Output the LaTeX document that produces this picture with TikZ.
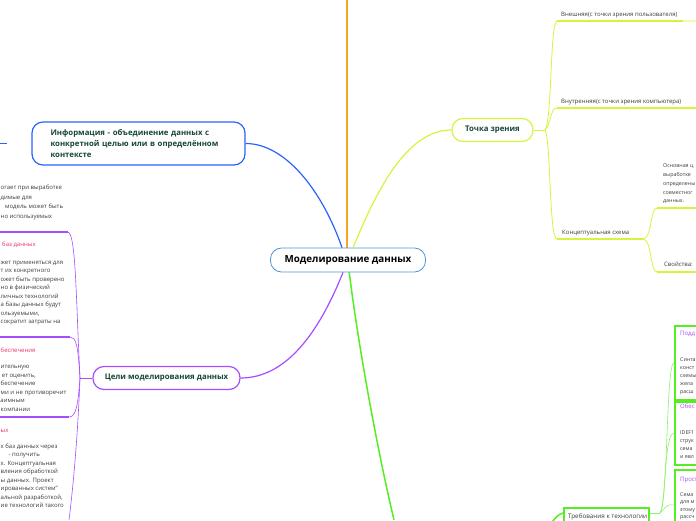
\documentclass[tikz,border=0pt]{standalone}
\usepackage{fontspec}
\setmainfont{Open Sans}
\usetikzlibrary{positioning, calc}
\definecolor{rootBlue}{RGB}{77, 150, 214}
\definecolor{infoBlue}{RGB}{41, 98, 255}
\definecolor{viewYellow}{RGB}{212, 245, 60}
\definecolor{goalPurple}{RGB}{166, 77, 255}
\definecolor{reqGreen}{RGB}{85, 238, 34}
\definecolor{trunkOrange}{RGB}{245, 166, 35}
\definecolor{topicText}{RGB}{22, 70, 58}
\definecolor{leafText}{RGB}{60, 60, 60}
\definecolor{titlePink}{RGB}{230, 50, 110}
\definecolor{titlePurple}{RGB}{170, 80, 240}

\begin{document}
\begin{tikzpicture}[
    x=1pt, y=-1pt,
    root_node/.style={
        rectangle,
        draw=rootBlue,
        line width=0.8pt,
        rounded corners=11pt,
        minimum width=155pt,
        minimum height=24pt,
        fill=white,
        font=\fontsize{9.8}{11}\selectfont\bfseries
    },
    topic_node/.style={
        rectangle,
        line width=1.2pt,
        rounded corners=11pt,
        fill=white,
        text=topicText,
        font=\fontsize{7.8}{10.7}\selectfont\bfseries
    },
    leaf_text/.style={
        font=\fontsize{6}{7}\selectfont,
        text=leafText,
        inner sep=0pt
    },
    edge_text/.style={
        leaf_text,
        font=\fontsize{5.3}{7}\selectfont
    },
    leaf_line/.style={line width=1.4pt},
    green_box/.style={
        rectangle,
        draw=reqGreen,
        line width=1.6pt,
        fill=white,
        inner sep=0pt
    },
    box_title/.style={
        font=\fontsize{6}{7}\selectfont,
        inner sep=0pt
    }
]
    \useasboundingbox (0, 0) rectangle (696, 520);
    \clip (0, 0) rectangle (696, 520);

    % Main trunk lines
    \coordinate (top_end) at (347, 0);
    \coordinate (bottom_end) at (394, 520);
    \draw[trunkOrange, line width=1.2pt] (347, 250) -- (top_end);
    \draw[reqGreen, line width=1.5pt] (349, 270) .. controls (356, 330) and (375, 440) .. (bottom_end);

    % Root and topics
    \node[root_node] (root) at (348, 260) {Моделирование данных};
    \node[topic_node, draw=infoBlue, minimum width=213pt, minimum height=43pt,
          align=left, text width=176pt] (info) at (138.5, 143.5) {
        Информация - объединение данных с\\
        конкретной целью или в определённом\\
        контексте
    };
    \node[topic_node, draw=viewYellow, minimum width=81pt, minimum height=23pt] (view) at (492.5, 130) {Точка зрения};
    \node[topic_node, draw=goalPurple, minimum width=147pt, minimum height=23pt] (goals) at (166.5, 378) {Цели моделирования данных};

    % Branches from root
    \draw[infoBlue, line width=1.2pt] ([xshift=-6pt]root.north) .. controls (322, 190) and (285, 143.5) .. (info.east);
    \draw[viewYellow, line width=1.2pt] ([xshift=5pt]root.north) .. controls (375, 195) and (405, 130) .. (view.west);
    \draw[goalPurple, line width=1.2pt] ([xshift=-5pt]root.south) .. controls (318, 335) and (285, 378) .. (goals.east);

    % Info stub to the left
    \coordinate (info_stub) at (0, 143.5);
    \draw[infoBlue, line width=1.2pt] (info_stub) -- ++(7, 0);

    % Goals children (cut off at the left edge)
    \coordinate (goal_split) at (80, 378);
    \coordinate (goal_a) at (68, 232);
    \coordinate (goal_b) at (70, 337);
    \coordinate (goal_c) at (69, 417);
    \coordinate (goal_d) at (69, 520);
    \draw[goalPurple, line width=0.8pt] (goals.west) -- (goal_split);
    \draw[goalPurple, line width=0.6pt] (goal_split) .. controls (76, 300) and (76, 234) .. (goal_a);
    \draw[goalPurple, line width=0.6pt] (goal_split) .. controls (78, 345) and (76, 337) .. (goal_b);
    \draw[goalPurple, line width=0.6pt] (goal_split) .. controls (78, 405) and (76, 417) .. (goal_c);
    \draw[goalPurple, line width=0.6pt] (goal_split) .. controls (78, 430) and (74, 480) .. (goal_d);
    \draw[goalPurple, leaf_line] (0, 232) -- (goal_a);
    \draw[goalPurple, leaf_line] (0, 337) -- (goal_b);
    \draw[goalPurple, leaf_line] (0, 417) -- (goal_c);

    \foreach \ax/\px/\yy/\txt in {west/0.5/189/огает при выработке, west/0.5/199/димые для,
                                  west/5/208/модель может быть, west/0.5/218/но используемых} {
        \node[leaf_text, anchor=base \ax] at (\px, \yy) {\txt};
    }
    \node[box_title, text=titlePink, anchor=base west] at (2, 246) {баз данных};
    \foreach \ax/\px/\yy/\txt in {west/0.5/264/жет применяться для, west/0.5/272/т их конкретного,
                                  west/0.5/281/ожет быть проверено, west/0.5/289/но в физический,
                                  west/0.5/298/личных технологий, west/0.5/306/а базы данных будут,
                                  west/0.5/315/{ользуемыми,}, west/0.5/323/сократит затраты на} {
        \node[leaf_text, anchor=base \ax] at (\px, \yy) {\txt};
    }
    \node[box_title, text=titlePink, anchor=base west] at (0.5, 352) {беспечения};
    \foreach \ax/\px/\yy/\txt in {west/0.5/368/ительную, east/36/377/{ет оценить,},
                                  west/0.5/385/беспечение, west/0.5/394/ми и не противоречит,
                                  east/25/402/аимным, west/0.5/411/компании} {
        \node[leaf_text, anchor=base \ax] at (\px, \yy) {\txt};
    }
    \node[box_title, text=titlePink, anchor=base west] at (0.5, 432) {ых};
    \foreach \ax/\px/\yy/\txt in {west/0.5/448/х баз данных через, east/40/456/- получить,
                                  west/0.5/465/х. Концептуальная, west/0.5/473/вления обработкой,
                                  west/0.5/482/ы данных. Проект, west/0.5/490/ированных систем",
                                  west/0.5/499/{альной разработкой,}, west/0.5/507/ие технологий такого} {
        \node[leaf_text, anchor=base \ax] at (\px, \yy) {\txt};
    }

    % View children
    \coordinate (view_split) at (545, 130);
    \draw[viewYellow, line width=0.8pt] (view.east) -- (view_split);
    \node[leaf_text, anchor=base west] (outer) at (561, 16) {Внешняя(с точки зрения пользователя)};
    \node[leaf_text, anchor=base west] (inner) at (561, 103) {Внутренняя(с точки зрения компьютера)};
    \node[leaf_text, anchor=base west] (concept) at (562, 234) {Концептуальная схема};
    \draw[viewYellow, line width=0.8pt] (view_split) .. controls (552, 122) and (550, 21) .. (557, 21);
    \draw[viewYellow, line width=0.8pt] (view_split) .. controls (551, 125) and (550, 108) .. (557, 108);
    \draw[viewYellow, line width=0.8pt] (view_split) .. controls (551, 140) and (549, 239) .. (557, 239);
    \draw[viewYellow, leaf_line] (557, 21) -- (683, 21);
    \draw[viewYellow!40, leaf_line] (683, 21) -- (696, 21);
    \draw[viewYellow, leaf_line] (557, 108) -- (696, 108);
    \draw[viewYellow, leaf_line] (557, 239) -- (643, 239);

    % Concept children
    \draw[viewYellow, line width=0.8pt] (643, 239) .. controls (652, 239) and (650, 208) .. (657, 208);
    \draw[viewYellow, line width=0.8pt] (643, 239) .. controls (652, 239) and (650, 272) .. (657, 272);
    \draw[viewYellow, leaf_line] (657, 208) -- (696, 208);
    \draw[viewYellow, leaf_line] (657, 272) -- (696, 272);
    \foreach \yy/\txt in {167/Основная ц, 176/выработке, 185/определены, 194/совместног, 202/данных.} {
        \node[edge_text, anchor=base west] at (663, \yy) {\txt};
    }
    \node[leaf_text, anchor=base west] (props) at (664, 266) {Свойства:};

    % Requirements boxes
    \node[green_box, minimum width=60pt, minimum height=74pt, anchor=north west] (req_a) at (674, 325) {};
    \node[green_box, minimum width=60pt, minimum height=63pt, anchor=north west] (req_b) at (674, 401) {};
    \node[green_box, minimum width=60pt, minimum height=70pt, anchor=north west] (req_c) at (674, 469) {};
    \node[green_box, minimum width=85pt, minimum height=30pt, anchor=north west] (req) at (563, 507) {};
    \node[leaf_text, font=\fontsize{6.3}{7}\selectfont, anchor=base west] at (568, 518) {Требования к технологии};

    \node[box_title, text=titlePurple, anchor=base west] at (680, 335) {Подд};
    \foreach \yy/\txt in {361/Синта, 369/конст, 377/схемы, 385/жела, 393/расш} {
        \node[edge_text, anchor=base west] at (680, \yy) {\txt};
    }
    \node[box_title, text=titlePurple, anchor=base west] at (680, 408) {Обес};
    \foreach \yy/\txt in {434/IDEF1, 442/струк, 450/сема, 458/и явл} {
        \node[edge_text, anchor=base west] at (680, \yy) {\txt};
    }
    \node[box_title, text=titlePurple, anchor=base west] at (680, 481) {Прост};
    \foreach \yy/\txt in {496/Сема, 503.5/для м, 511/этому, 518/рассч} {
        \node[edge_text, anchor=base west] at (680, \yy) {\txt};
    }

    % Requirement connectors
    \coordinate (req_split) at (660, 513);
    \coordinate (req_in) at (552, 522);
    \draw[reqGreen!70, line width=0.6pt] (req.east |- req_split) -- (req_split);
    \draw[reqGreen!70, line width=0.6pt] (req_split) .. controls (668, 505) and (666, 362) .. (req_a.west);
    \draw[reqGreen!70, line width=0.6pt] (req_split) .. controls (666, 505) and (664, 432) .. (req_b.west);
    \draw[reqGreen!70, line width=0.6pt] (req_split) .. controls (665, 510) and (664, 504) .. (req_c.west);
    \draw[reqGreen, line width=1.5pt] (req.west |- req_split) .. controls (558, 515) .. (req_in);
\end{tikzpicture}
\end{document}
